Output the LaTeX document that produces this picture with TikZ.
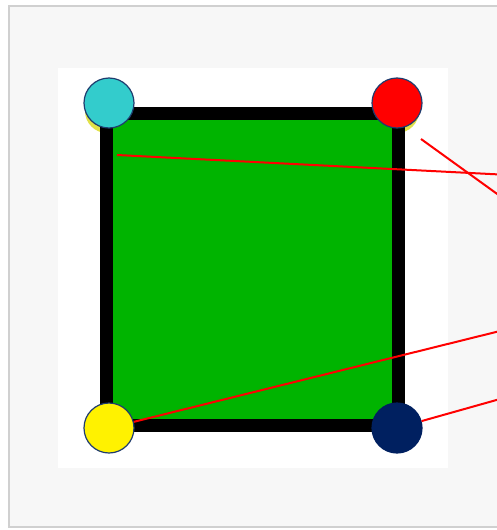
\documentclass[tikz,border=0pt]{standalone}
\usepackage{xcolor}
\usepackage{tikz}
\usetikzlibrary{positioning}

\definecolor{panelgray}{RGB}{247,247,247}
\definecolor{panelline}{RGB}{208,208,208}
\definecolor{boardgreen}{RGB}{0,180,0}
\definecolor{dotcyan}{RGB}{51,204,204}
\definecolor{dotnavy}{RGB}{0,32,96}
\definecolor{dotrim}{RGB}{31,60,110}
\definecolor{glowyellow}{RGB}{220,220,40}

\begin{document}
\begin{tikzpicture}[
    x=1pt, y=-1pt,
    board/.style ={rectangle,draw=black,line width=13pt,fill=boardgreen,
                   minimum width=292pt,minimum height=312pt,inner sep=0pt},
    dot/.style   ={circle,draw=dotrim,line width=1.2pt,minimum size=50pt,
                   inner sep=0pt},
    glow/.style  ={circle,fill=glowyellow,minimum size=44pt,inner sep=0pt,
                   opacity=0.85},
    wire/.style  ={red,line width=2pt},
  ]
  \useasboundingbox (0,0) rectangle (497,530);

  % Background panels
  \fill[white] (0,0) rectangle (497,530);
  \draw[panelline,line width=2pt,fill=panelgray] (9,6) rectangle (510,527);
  \fill[white] (58,68) rectangle (448,468);

  % Glow under the top dots
  \node[glow] (tlglow) at (107,111) {};
  \node[glow] (trglow) at (397,111) {};

  % Green board
  \node[board] (B) at (252.5,269.5) {};

  % Corner dots
  \node[dot,fill=dotcyan] (TL) at (109,103) {};
  \node[dot,fill=red]     (TR) at (397,103) {};
  \node[dot,fill=yellow]  (BL) at (109,428) {};
  \node[dot,fill=dotnavy,draw=dotnavy] (BR) at (397,428) {};

  % Free ends of the wires
  \coordinate (a0) at (117,155);
  \coordinate (a1) at (500,174.5);
  \coordinate (b0) at (421,139);
  \coordinate (b1) at (500,196);
  \coordinate (c1) at (500,331);
  \coordinate (d1) at (500,399);

  % Red wires
  \draw[wire] (a0) -- (a1);
  \draw[wire] (b0) -- (b1);
  \draw[wire] (BL) -- (c1);
  \draw[wire] (BR) -- (d1);
\end{tikzpicture}
\end{document}
